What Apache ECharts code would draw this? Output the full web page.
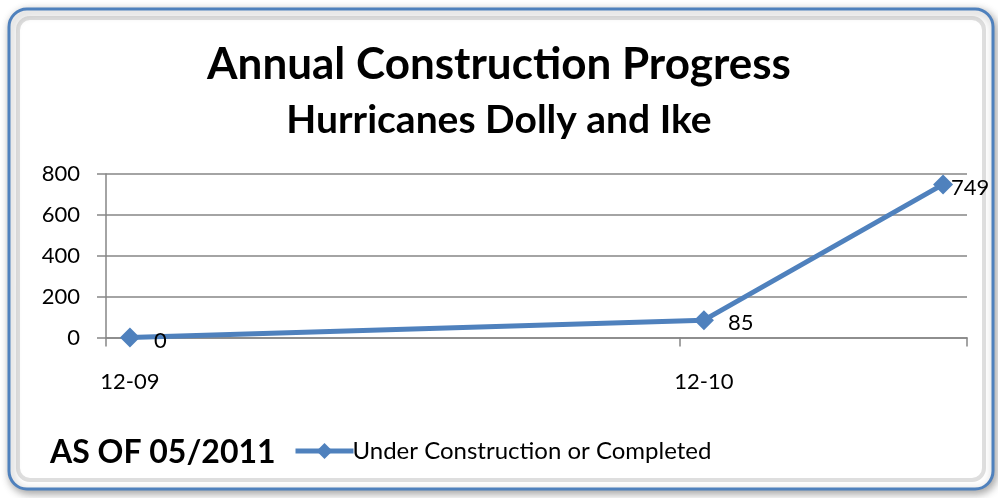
<!DOCTYPE html>
<html>
<head>
<meta charset="utf-8">
<script src="https://cdn.jsdelivr.net/npm/echarts@6/dist/echarts.min.js"></script>
<style>html,body{margin:0;padding:0;background:#fff}#c{width:998px;height:498px}</style>
</head>
<body>
<div id="c"></div>
<script>
// Data
var titleText = 'Annual Construction Progress';
var subtitleText = 'Hurricanes Dolly and Ike';
var noteText = 'AS OF 05/2011';
var seriesName = 'Under Construction or Completed';
// monthly date axis from 12-09 through 05-11
var months = ['12-09','01-10','02-10','03-10','04-10','05-10','06-10','07-10','08-10','09-10','10-10','11-10','12-10','01-11','02-11','03-11','04-11','05-11'];
var pointMonths = ['12-09','12-10','05-11'];
var values = [0, 85, 749];
var yTicks = [0, 200, 400, 600, 800];

var FONT = 'Lato, "Open Sans", sans-serif';
var BLUE = '#4f81bd';
var data = pointMonths.map(function (m, i) {
  var item = { value: [months.indexOf(m), values[i]] };
  if (i === values.length - 1) { item.label = { distance: -2 }; }
  return item;
});

var chart = echarts.init(document.getElementById('c'));
chart.setOption({
  animation: false,
  backgroundColor: '#ffffff',
  graphic: [
    { type: 'rect', z: -10, silent: true,
      shape: { x: 9, y: 9, width: 984, height: 480, r: 18 },
      style: { fill: '#ffffff', stroke: BLUE, lineWidth: 3,
               shadowBlur: 8, shadowColor: 'rgba(0,0,0,0.35)', shadowOffsetX: 2, shadowOffsetY: 3 } },
    { type: 'rect', z: -9, silent: true,
      shape: { x: 18, y: 18, width: 966, height: 462, r: 12 },
      style: { fill: 'none', stroke: 'rgba(160,160,160,0.35)', lineWidth: 4 } },
    { type: 'text', left: 50, top: 437, z: 10,
      style: { text: noteText, font: 'bold 32px ' + FONT, fill: '#000' } }
  ],
  title: [
    { text: titleText, left: 'center', top: 38,
      textStyle: { fontFamily: FONT, fontWeight: 'bold', fontSize: 44, color: '#000' } },
    { text: subtitleText, left: 'center', top: 96,
      textStyle: { fontFamily: FONT, fontWeight: 'bold', fontSize: 39, color: '#000' } }
  ],
  legend: {
    left: 288, top: 434,
    itemWidth: 58, itemHeight: 20, itemGap: 4,
    lineStyle: { width: 5 },
    textStyle: { fontFamily: FONT, fontSize: 24, color: '#000', padding: [0, 0, 0, -6] },
    data: [seriesName]
  },
  grid: { left: 106, right: 31, top: 174, bottom: 160.5, containLabel: false },
  xAxis: {
    type: 'category', data: months, boundaryGap: true,
    axisLine: { lineStyle: { color: '#868686', width: 1.5 } },
    axisTick: { show: true, interval: function (i) { return i % 12 === 0; }, length: 9,
                lineStyle: { color: '#868686', width: 1.5 } },
    axisLabel: { interval: function (i) { return i % 12 === 0; }, margin: 33,
                 fontFamily: FONT, fontSize: 22, color: '#000' },
    splitLine: { show: false }
  },
  yAxis: {
    type: 'value', min: yTicks[0], max: yTicks[yTicks.length - 1], interval: 200,
    axisLine: { show: true, lineStyle: { color: '#868686', width: 1.5 } },
    axisTick: { show: true, length: 9, lineStyle: { color: '#868686', width: 1.5 } },
    axisLabel: { margin: 26, fontFamily: FONT, fontSize: 22, color: '#000' },
    splitLine: { show: true, lineStyle: { color: '#868686', width: 1.5 } }
  },
  series: [{
    name: seriesName, type: 'line', data: data,
    symbol: 'diamond', symbolSize: 20,
    lineStyle: { color: BLUE, width: 5 },
    itemStyle: { color: BLUE },
    label: { show: true, position: 'right', distance: 14, fontFamily: FONT, fontSize: 22, color: '#000',
             offset: [0, 3],
             formatter: function (p) { return p.value[1]; } }
  }]
});
</script>
</body>
</html>
